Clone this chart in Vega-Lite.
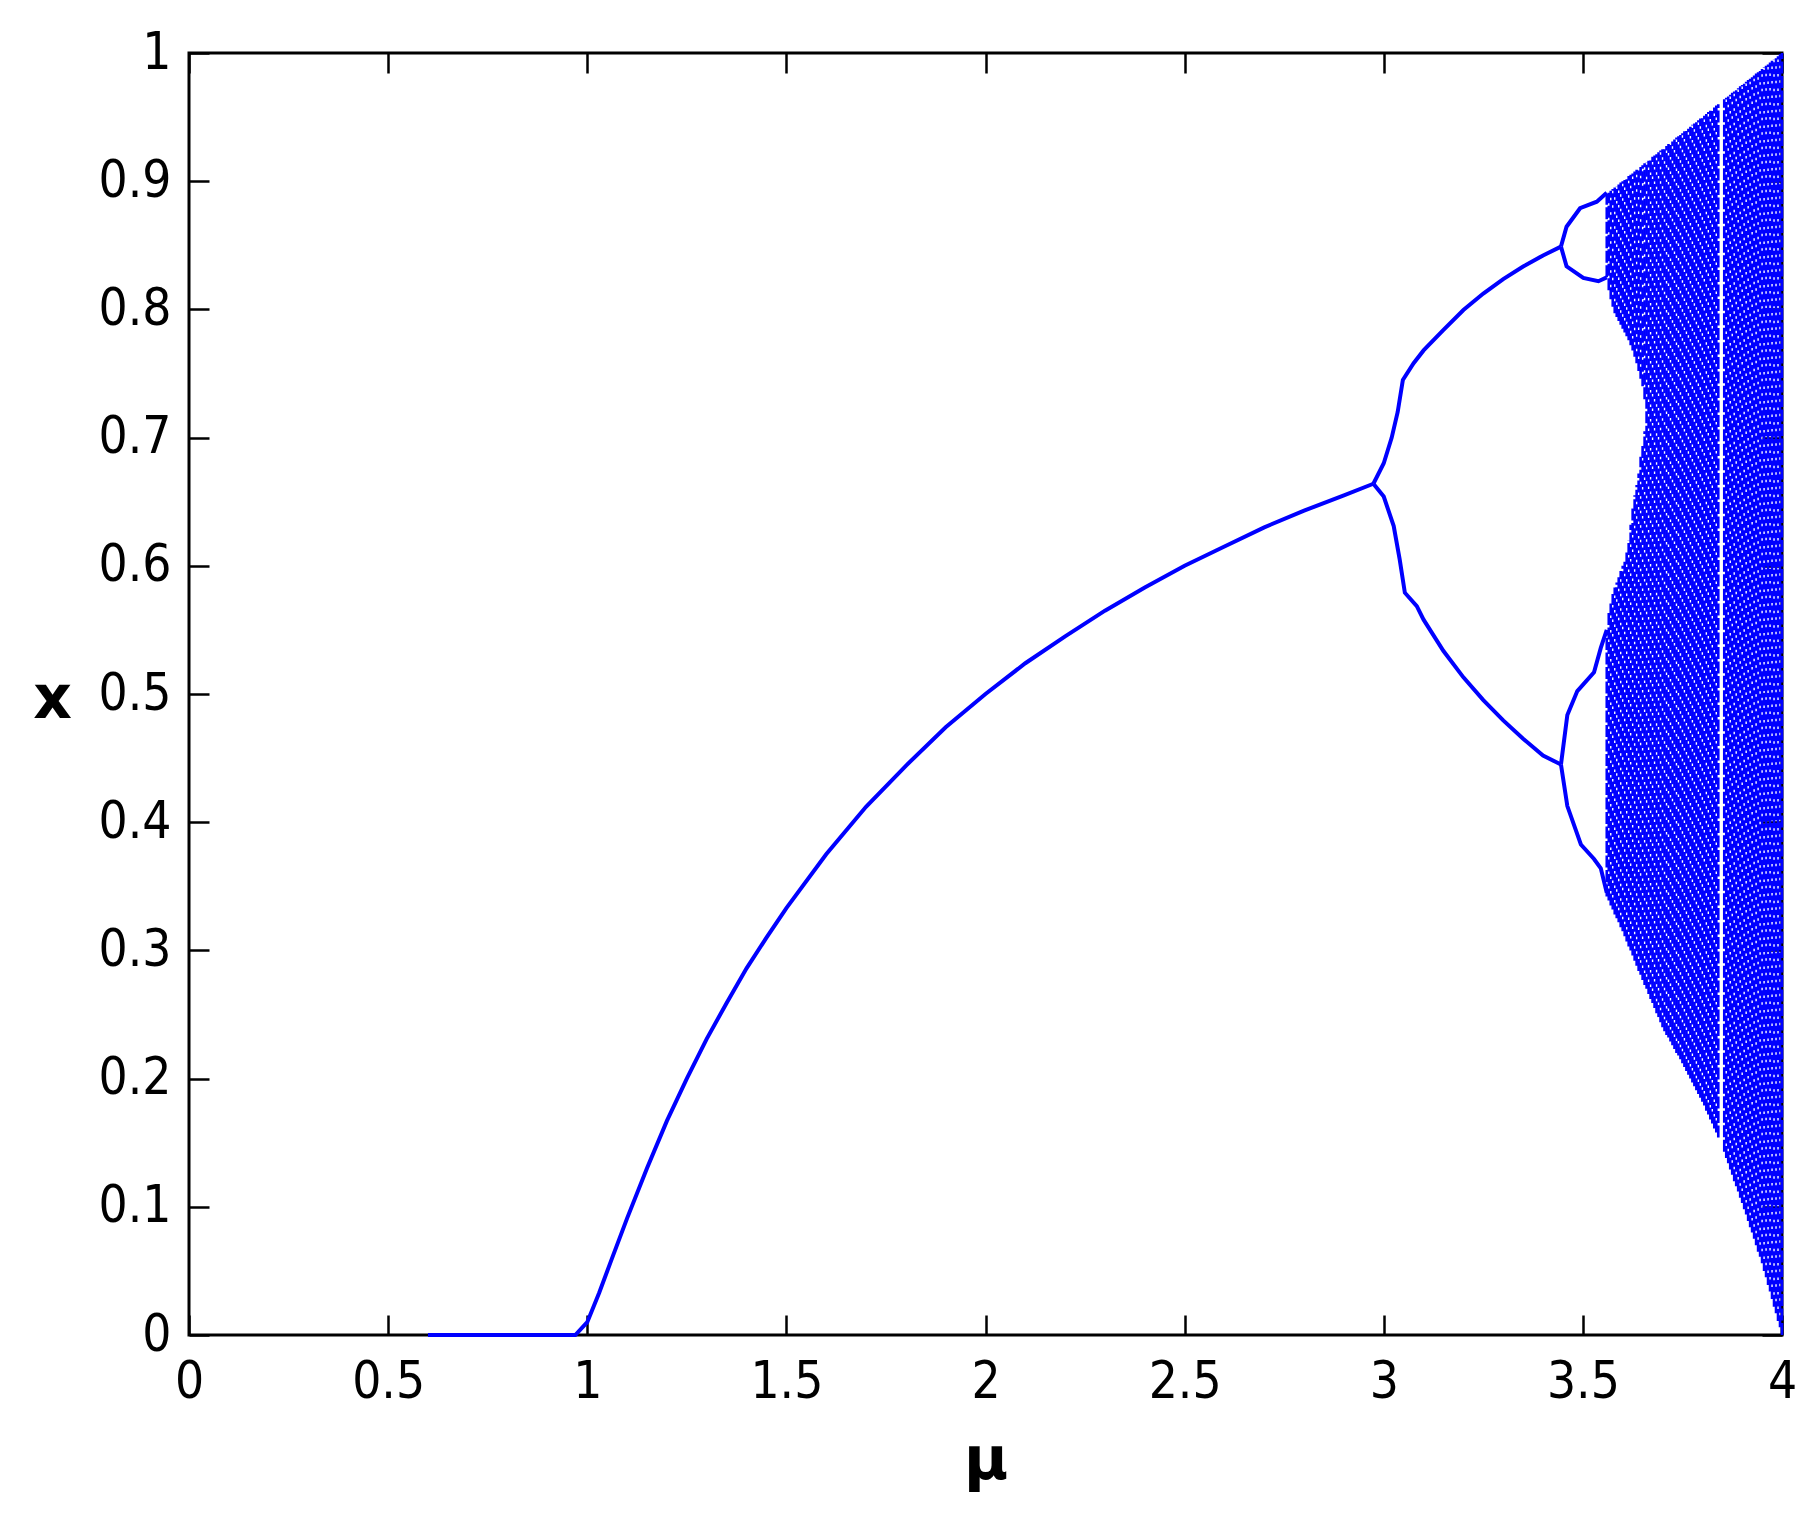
{
  "$schema": "https://vega.github.io/schema/vega-lite/v6.json",
  "width": 1593,
  "height": 1282,
  "autosize": {"type": "none"},
  "padding": {"left": 189, "top": 53, "right": 36, "bottom": 190},
  "background": "white",
  "config": {
    "view": {"stroke": "black", "strokeWidth": 3},
    "axis": {
      "domain": false,
      "grid": false,
      "tickSize": -20,
      "tickWidth": 2.5,
      "tickColor": "black",
      "labelFlush": false,
      "labelOverlap": false,
      "format": "~g",
      "labelFont": "Liberation Sans Narrow, DejaVu Sans Condensed, sans-serif",
      "labelFontSize": 51,
      "labelColor": "black",
      "titleFont": "DejaVu Sans",
      "titleFontWeight": "bold",
      "titleFontSize": 60,
      "titleColor": "black",
      "zindex": 1
    }
  },
  "datasets": {
    "branches": [
      {"br": "a", "m": 0.6, "v": 0}, {"br": "a", "m": 0.7, "v": 0}, {"br": "a", "m": 0.8, "v": 0}, {"br": "a", "m": 0.9, "v": 0}, {"br": "a", "m": 0.97, "v": 0},
      {"br": "a", "m": 1.0, "v": 0.01}, {"br": "a", "m": 1.03, "v": 0.033}, {"br": "a", "m": 1.06, "v": 0.058}, {"br": "a", "m": 1.1, "v": 0.091},
      {"br": "a", "m": 1.15, "v": 0.13}, {"br": "a", "m": 1.2, "v": 0.167}, {"br": "a", "m": 1.25, "v": 0.2}, {"br": "a", "m": 1.3, "v": 0.231},
      {"br": "a", "m": 1.35, "v": 0.259}, {"br": "a", "m": 1.4, "v": 0.286}, {"br": "a", "m": 1.45, "v": 0.31}, {"br": "a", "m": 1.5, "v": 0.333},
      {"br": "a", "m": 1.6, "v": 0.375}, {"br": "a", "m": 1.7, "v": 0.412}, {"br": "a", "m": 1.8, "v": 0.444}, {"br": "a", "m": 1.9, "v": 0.474},
      {"br": "a", "m": 2.0, "v": 0.5}, {"br": "a", "m": 2.1, "v": 0.524}, {"br": "a", "m": 2.2, "v": 0.545}, {"br": "a", "m": 2.3, "v": 0.565},
      {"br": "a", "m": 2.4, "v": 0.583}, {"br": "a", "m": 2.5, "v": 0.6}, {"br": "a", "m": 2.6, "v": 0.615}, {"br": "a", "m": 2.7, "v": 0.63},
      {"br": "a", "m": 2.8, "v": 0.643}, {"br": "a", "m": 2.9, "v": 0.655}, {"br": "a", "m": 2.974, "v": 0.664},
      {"br": "u2", "m": 2.974, "v": 0.664}, {"br": "u2", "m": 3.0, "v": 0.68}, {"br": "u2", "m": 3.02, "v": 0.7}, {"br": "u2", "m": 3.035, "v": 0.72},
      {"br": "u2", "m": 3.048, "v": 0.745}, {"br": "u2", "m": 3.075, "v": 0.758}, {"br": "u2", "m": 3.1, "v": 0.768}, {"br": "u2", "m": 3.15, "v": 0.784},
      {"br": "u2", "m": 3.2, "v": 0.7995}, {"br": "u2", "m": 3.25, "v": 0.8124}, {"br": "u2", "m": 3.3, "v": 0.8236}, {"br": "u2", "m": 3.35, "v": 0.8334},
      {"br": "u2", "m": 3.4, "v": 0.8421}, {"br": "u2", "m": 3.445, "v": 0.849},
      {"br": "l2", "m": 2.974, "v": 0.664}, {"br": "l2", "m": 3.0, "v": 0.654}, {"br": "l2", "m": 3.025, "v": 0.631}, {"br": "l2", "m": 3.04, "v": 0.605},
      {"br": "l2", "m": 3.053, "v": 0.579}, {"br": "l2", "m": 3.083, "v": 0.5685}, {"br": "l2", "m": 3.1, "v": 0.558}, {"br": "l2", "m": 3.15, "v": 0.5335},
      {"br": "l2", "m": 3.2, "v": 0.513}, {"br": "l2", "m": 3.25, "v": 0.4953}, {"br": "l2", "m": 3.3, "v": 0.4794}, {"br": "l2", "m": 3.35, "v": 0.4651},
      {"br": "l2", "m": 3.4, "v": 0.452}, {"br": "l2", "m": 3.445, "v": 0.445},
      {"br": "p4a", "m": 3.445, "v": 0.849}, {"br": "p4a", "m": 3.459, "v": 0.8645}, {"br": "p4a", "m": 3.493, "v": 0.8789}, {"br": "p4a", "m": 3.535, "v": 0.884}, {"br": "p4a", "m": 3.56, "v": 0.891},
      {"br": "p4b", "m": 3.445, "v": 0.849}, {"br": "p4b", "m": 3.459, "v": 0.8336}, {"br": "p4b", "m": 3.501, "v": 0.8245}, {"br": "p4b", "m": 3.539, "v": 0.822}, {"br": "p4b", "m": 3.56, "v": 0.825},
      {"br": "p4c", "m": 3.445, "v": 0.445}, {"br": "p4c", "m": 3.461, "v": 0.4836}, {"br": "p4c", "m": 3.486, "v": 0.5023}, {"br": "p4c", "m": 3.528, "v": 0.517}, {"br": "p4c", "m": 3.545, "v": 0.536}, {"br": "p4c", "m": 3.56, "v": 0.55},
      {"br": "p4d", "m": 3.445, "v": 0.445}, {"br": "p4d", "m": 3.461, "v": 0.4126}, {"br": "p4d", "m": 3.495, "v": 0.3826}, {"br": "p4d", "m": 3.528, "v": 0.3713}, {"br": "p4d", "m": 3.545, "v": 0.364}, {"br": "p4d", "m": 3.56, "v": 0.345}
    ],
    "chaos": [
      {"m": 3.56, "lo": 0.342, "hi": 0.55}, {"m": 3.56, "lo": 0.825, "hi": 0.89},
      {"m": 3.565, "lo": 0.339, "hi": 0.565}, {"m": 3.565, "lo": 0.815, "hi": 0.891},
      {"m": 3.57, "lo": 0.335, "hi": 0.572}, {"m": 3.57, "lo": 0.808, "hi": 0.8925},
      {"m": 3.575, "lo": 0.332, "hi": 0.578}, {"m": 3.575, "lo": 0.802, "hi": 0.894},
      {"m": 3.58, "lo": 0.328, "hi": 0.583}, {"m": 3.58, "lo": 0.797, "hi": 0.895},
      {"m": 3.585, "lo": 0.325, "hi": 0.587}, {"m": 3.585, "lo": 0.794, "hi": 0.896},
      {"m": 3.59, "lo": 0.322, "hi": 0.591}, {"m": 3.59, "lo": 0.791, "hi": 0.8975},
      {"m": 3.595, "lo": 0.318, "hi": 0.596}, {"m": 3.595, "lo": 0.788, "hi": 0.899},
      {"m": 3.6, "lo": 0.315, "hi": 0.6}, {"m": 3.6, "lo": 0.785, "hi": 0.9},
      {"m": 3.605, "lo": 0.311, "hi": 0.605}, {"m": 3.605, "lo": 0.782, "hi": 0.901},
      {"m": 3.61, "lo": 0.307, "hi": 0.612}, {"m": 3.61, "lo": 0.779, "hi": 0.9025},
      {"m": 3.615, "lo": 0.303, "hi": 0.62}, {"m": 3.615, "lo": 0.776, "hi": 0.904},
      {"m": 3.62, "lo": 0.3, "hi": 0.632}, {"m": 3.62, "lo": 0.772, "hi": 0.905},
      {"m": 3.625, "lo": 0.296, "hi": 0.645}, {"m": 3.625, "lo": 0.768, "hi": 0.906},
      {"m": 3.63, "lo": 0.292, "hi": 0.655}, {"m": 3.63, "lo": 0.763, "hi": 0.9075},
      {"m": 3.635, "lo": 0.288, "hi": 0.663}, {"m": 3.635, "lo": 0.758, "hi": 0.909},
      {"m": 3.64, "lo": 0.284, "hi": 0.672}, {"m": 3.64, "lo": 0.752, "hi": 0.91},
      {"m": 3.645, "lo": 0.281, "hi": 0.685}, {"m": 3.645, "lo": 0.746, "hi": 0.911},
      {"m": 3.65, "lo": 0.277, "hi": 0.695}, {"m": 3.65, "lo": 0.74, "hi": 0.9125},
      {"m": 3.655, "lo": 0.273, "hi": 0.705}, {"m": 3.655, "lo": 0.73, "hi": 0.914},
      {"m": 3.66, "lo": 0.27, "hi": 0.915}, {"m": 3.665, "lo": 0.266, "hi": 0.916}, {"m": 3.67, "lo": 0.262, "hi": 0.9175}, {"m": 3.675, "lo": 0.259, "hi": 0.919},
      {"m": 3.68, "lo": 0.255, "hi": 0.92}, {"m": 3.685, "lo": 0.251, "hi": 0.921}, {"m": 3.69, "lo": 0.248, "hi": 0.9225}, {"m": 3.695, "lo": 0.244, "hi": 0.924},
      {"m": 3.7, "lo": 0.24, "hi": 0.925}, {"m": 3.705, "lo": 0.237, "hi": 0.926}, {"m": 3.71, "lo": 0.234, "hi": 0.9275}, {"m": 3.715, "lo": 0.232, "hi": 0.929},
      {"m": 3.72, "lo": 0.229, "hi": 0.93}, {"m": 3.725, "lo": 0.226, "hi": 0.931}, {"m": 3.73, "lo": 0.223, "hi": 0.9325}, {"m": 3.735, "lo": 0.22, "hi": 0.934},
      {"m": 3.74, "lo": 0.218, "hi": 0.935}, {"m": 3.745, "lo": 0.215, "hi": 0.936}, {"m": 3.75, "lo": 0.212, "hi": 0.9375}, {"m": 3.755, "lo": 0.209, "hi": 0.939},
      {"m": 3.76, "lo": 0.206, "hi": 0.94}, {"m": 3.765, "lo": 0.203, "hi": 0.941}, {"m": 3.77, "lo": 0.2, "hi": 0.9425}, {"m": 3.775, "lo": 0.197, "hi": 0.944},
      {"m": 3.78, "lo": 0.194, "hi": 0.945}, {"m": 3.785, "lo": 0.191, "hi": 0.946}, {"m": 3.79, "lo": 0.188, "hi": 0.9475}, {"m": 3.795, "lo": 0.185, "hi": 0.949},
      {"m": 3.8, "lo": 0.182, "hi": 0.95}, {"m": 3.805, "lo": 0.179, "hi": 0.951}, {"m": 3.81, "lo": 0.175, "hi": 0.9525}, {"m": 3.815, "lo": 0.172, "hi": 0.954},
      {"m": 3.82, "lo": 0.168, "hi": 0.955}, {"m": 3.825, "lo": 0.165, "hi": 0.956}, {"m": 3.83, "lo": 0.161, "hi": 0.9575}, {"m": 3.835, "lo": 0.158, "hi": 0.959},
      {"m": 3.84, "lo": 0.154, "hi": 0.96},
      {"m": 3.855, "lo": 0.143, "hi": 0.964}, {"m": 3.86, "lo": 0.138, "hi": 0.965}, {"m": 3.865, "lo": 0.134, "hi": 0.966}, {"m": 3.87, "lo": 0.129, "hi": 0.9675},
      {"m": 3.875, "lo": 0.125, "hi": 0.969}, {"m": 3.88, "lo": 0.12, "hi": 0.97}, {"m": 3.885, "lo": 0.116, "hi": 0.971}, {"m": 3.89, "lo": 0.112, "hi": 0.9725},
      {"m": 3.895, "lo": 0.107, "hi": 0.974}, {"m": 3.9, "lo": 0.103, "hi": 0.975}, {"m": 3.905, "lo": 0.098, "hi": 0.976}, {"m": 3.91, "lo": 0.094, "hi": 0.9775},
      {"m": 3.915, "lo": 0.089, "hi": 0.979}, {"m": 3.92, "lo": 0.084, "hi": 0.98}, {"m": 3.925, "lo": 0.08, "hi": 0.981}, {"m": 3.93, "lo": 0.075, "hi": 0.9825},
      {"m": 3.935, "lo": 0.07, "hi": 0.984}, {"m": 3.94, "lo": 0.065, "hi": 0.985}, {"m": 3.945, "lo": 0.061, "hi": 0.986}, {"m": 3.95, "lo": 0.056, "hi": 0.9875},
      {"m": 3.955, "lo": 0.05, "hi": 0.989}, {"m": 3.96, "lo": 0.045, "hi": 0.99}, {"m": 3.965, "lo": 0.039, "hi": 0.991}, {"m": 3.97, "lo": 0.034, "hi": 0.9925},
      {"m": 3.975, "lo": 0.028, "hi": 0.994}, {"m": 3.98, "lo": 0.022, "hi": 0.995}, {"m": 3.985, "lo": 0.017, "hi": 0.996}, {"m": 3.99, "lo": 0.011, "hi": 0.9975},
      {"m": 3.995, "lo": 0.006, "hi": 0.999}, {"m": 4.0, "lo": 0.0, "hi": 1.0}
    ]
  },
  "layer": [
    {
      "data": {"name": "chaos"},
      "mark": {"type": "rule", "color": "#0000ff", "strokeWidth": 2.6, "strokeDash": [12, 2.5]},
      "encoding": {
        "x": {"field": "m", "type": "quantitative", "scale": {"domain": [0, 4], "nice": false, "zero": false},
              "axis": {"orient": "top", "values": [0, 0.5, 1, 1.5, 2, 2.5, 3, 3.5, 4], "labels": false, "title": null}},
        "y": {"field": "lo", "type": "quantitative", "scale": {"domain": [0, 1], "nice": false},
              "axis": {"orient": "right", "values": [0, 0.1, 0.2, 0.3, 0.4, 0.5, 0.6, 0.7, 0.8, 0.9, 1], "labels": false, "title": null}},
        "y2": {"field": "hi"}
      }
    },
    {
      "data": {"name": "branches"},
      "mark": {"type": "line", "color": "#0000ff", "strokeWidth": 4},
      "encoding": {
        "x": {"field": "m", "type": "quantitative", "scale": {"domain": [0, 4], "nice": false, "zero": false},
              "axis": {"orient": "bottom", "values": [0, 0.5, 1, 1.5, 2, 2.5, 3, 3.5, 4], "labelPadding": 42,
                       "title": "μ", "titleBaseline": "alphabetic", "titleY": 143}},
        "y": {"field": "v", "type": "quantitative", "scale": {"domain": [0, 1], "nice": false},
              "axis": {"orient": "left", "values": [0, 0.1, 0.2, 0.3, 0.4, 0.5, 0.6, 0.7, 0.8, 0.9, 1], "labelPadding": 38,
                       "title": "x", "titleAngle": 0, "titleBaseline": "alphabetic", "titleAlign": "center", "titleX": -137, "titleY": 664}},
        "detail": {"field": "br", "type": "nominal"}
      }
    }
  ],
  "resolve": {"axis": {"x": "independent", "y": "independent"}}
}
